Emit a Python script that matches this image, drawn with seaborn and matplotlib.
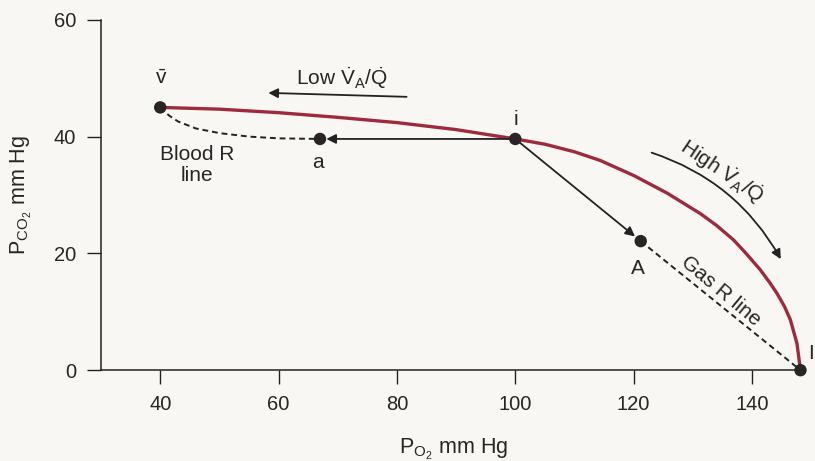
import numpy as np
import pandas as pd
import matplotlib
matplotlib.use("Agg")
import matplotlib.pyplot as plt
import seaborn as sns
from matplotlib.patches import FancyArrowPatch

## data
# ventilation-perfusion line (red curve)
vq_po2 = [40, 50, 60, 70, 80, 90, 100, 105, 110, 114.4, 120.1, 125.7, 131.3, 134,
          136.9, 139, 141.4, 143, 144.2, 145.5, 146.5, 147.6, 148.2]
vq_pco2 = [45, 44.7, 44.1, 43.3, 42.4, 41.2, 39.6, 38.7, 37.4, 35.9, 33.3, 30.3, 26.8, 24.8,
           22.3, 20.0, 17.2, 15.0, 13.2, 10.9, 8.6, 4.6, 0]
# blood R line (dashed, v-bar to a)
blood_po2 = [40, 41.5, 43, 46, 50, 55, 60, 67]
blood_pco2 = [45, 43.6, 42.6, 41.4, 40.6, 40.0, 39.7, 39.6]
# gas R line (dashed, A to I)
gas_po2 = [121.2, 148.2]
gas_pco2 = [22.1, 0]
# labelled points
pt_names = ["v", "a", "i", "A", "I"]
pt_po2 = [40, 67, 100, 121.2, 148.2]
pt_pco2 = [45, 39.6, 39.6, 22.1, 0]

x_ticks = [40, 60, 80, 100, 120, 140]
y_ticks = [0, 20, 40, 60]

bg = "#f8f7f3"
red = "#9e2a3e"
ink = "#222222"

sns.set_theme(style="ticks")
plt.rcParams['font.family'] = ['Liberation Sans', 'DejaVu Sans']
plt.rcParams['mathtext.fontset'] = 'custom'
plt.rcParams['mathtext.rm'] = 'Liberation Sans'
plt.rcParams['mathtext.it'] = 'Liberation Sans'
plt.rcParams['mathtext.default'] = 'regular'

fig = plt.figure(figsize=(8.15, 4.61), dpi=100, facecolor=bg)
ax = fig.add_axes([0.124, 0.197, 0.864, 0.76])
ax.set_facecolor(bg)

sns.lineplot(x=vq_po2, y=vq_pco2, ax=ax, color=red, lw=2.4, sort=False,
             solid_joinstyle="round", solid_capstyle="round")
sns.lineplot(x=blood_po2, y=blood_pco2, ax=ax, color=ink, lw=1.4, ls=(0, (3, 2)), sort=False)
sns.lineplot(x=gas_po2, y=gas_pco2, ax=ax, color=ink, lw=1.4, ls=(0, (3, 2)), sort=False)
pts = pd.DataFrame({"po2": pt_po2, "pco2": pt_pco2, "name": pt_names})
sns.scatterplot(data=pts, x="po2", y="pco2", ax=ax, color="#2a2424", s=80, edgecolor="none",
                zorder=5, clip_on=False)

# straight arrows from i
ax.annotate("", xy=(pt_po2[1] + 0.6, pt_pco2[1]), xytext=(pt_po2[2], pt_pco2[2]),
            arrowprops=dict(arrowstyle="-|>", color=ink, lw=1.3, mutation_scale=14))
ax.annotate("", xy=(pt_po2[3] - 0.6, pt_pco2[3] + 0.5), xytext=(pt_po2[2], pt_pco2[2]),
            arrowprops=dict(arrowstyle="-|>", color=ink, lw=1.3, mutation_scale=14))
# low V/Q arrow
ax.annotate("", xy=(57.8, 47.5), xytext=(82.1, 46.8),
            arrowprops=dict(arrowstyle="-|>", color=ink, lw=1.3, mutation_scale=14))
# high V/Q curved arrow
arr = FancyArrowPatch((122.6, 37.4), (145.1, 18.6), connectionstyle="arc3,rad=-0.2",
                      arrowstyle="-|>", color=ink, lw=1.3, mutation_scale=14)
ax.add_patch(arr)

fs = 15
ax.text(70.6, 50.0, r"Low $\dot{V}_A/\dot{Q}$", ha="center", va="center", fontsize=fs)
ax.text(135.0, 34.0, r"High $\dot{V}_A/\dot{Q}$", ha="center", va="center", fontsize=fs, rotation=-34)
ax.text(134.8, 13.6, "Gas R line", ha="center", va="center", fontsize=fs, rotation=-40)
ax.text(46.2, 35.2, "Blood R\nline", ha="center", va="center", fontsize=fs, linespacing=1.15)
ax.text(40.2, 50.0, r"$\bar{v}$", ha="center", va="center", fontsize=fs)
ax.text(66.6, 35.6, "a", ha="center", va="center", fontsize=fs)
ax.text(100.1, 43.0, "i", ha="center", va="center", fontsize=fs)
ax.text(120.7, 17.4, "A", ha="center", va="center", fontsize=fs)
ax.text(149.9, 2.9, "I", ha="center", va="center", fontsize=fs, clip_on=False)

ax.set_xlim(30, 149)
ax.set_ylim(0, 60)
ax.set_xticks(x_ticks)
ax.set_yticks(y_ticks)
ax.tick_params(labelsize=14.5, length=10, width=1, color=ink, pad=8)
sns.despine(ax=ax)
for s in ["left", "bottom"]:
    ax.spines[s].set_linewidth(1.1)
    ax.spines[s].set_color(ink)
ax.set_xlabel(r"P$_{O_2}$ mm Hg", fontsize=15.5, labelpad=16)
ax.set_ylabel(r"P$_{CO_2}$ mm Hg", fontsize=15.5, labelpad=14)

fig.savefig("out.png", dpi=100, facecolor=bg)
